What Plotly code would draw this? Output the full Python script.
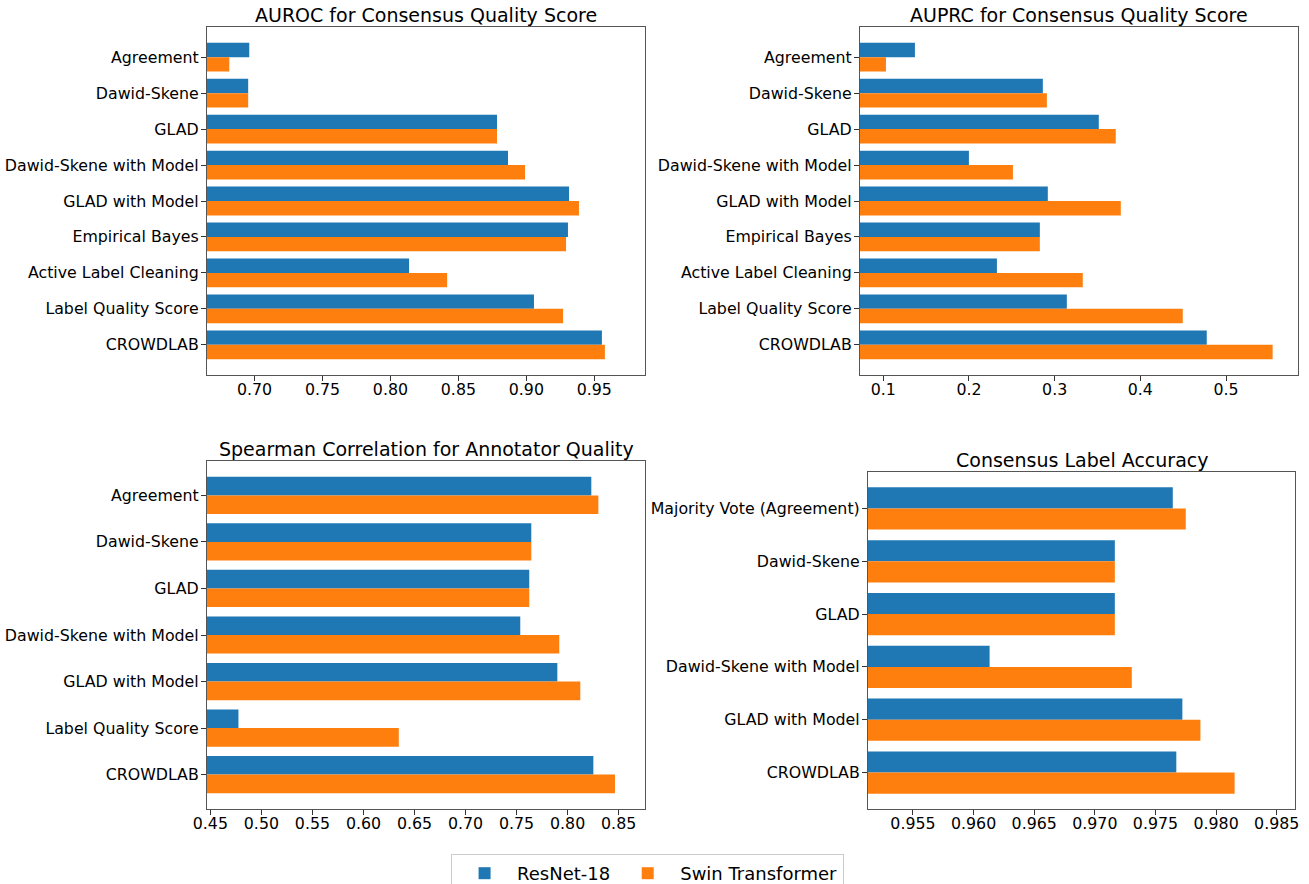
import plotly.graph_objects as go

# ---------------- data ----------------
series_names = ["ResNet-18", "Swin Transformer"]
colors = ["#1f77b4", "#ff7f0e"]

auroc_methods = ["Agreement", "Dawid-Skene", "GLAD", "Dawid-Skene with Model", "GLAD with Model",
                 "Empirical Bayes", "Active Label Cleaning", "Label Quality Score", "CROWDLAB"]
auroc_resnet = [0.6961, 0.6953, 0.8784, 0.8865, 0.9314, 0.9306, 0.8137, 0.9056, 0.9556]
auroc_swin = [0.6814, 0.6953, 0.8784, 0.8990, 0.9387, 0.9292, 0.8417, 0.9270, 0.9578]

auprc_methods = auroc_methods
auprc_resnet = [0.1369, 0.2862, 0.3515, 0.1999, 0.2920, 0.2827, 0.2326, 0.3142, 0.4775]
auprc_swin = [0.1031, 0.2909, 0.3713, 0.2513, 0.3772, 0.2827, 0.3328, 0.4495, 0.5544]

spear_methods = ["Agreement", "Dawid-Skene", "GLAD", "Dawid-Skene with Model", "GLAD with Model",
                 "Label Quality Score", "CROWDLAB"]
spear_resnet = [0.8232, 0.7644, 0.7624, 0.7536, 0.7899, 0.4775, 0.8252]
spear_swin = [0.8301, 0.7644, 0.7624, 0.7918, 0.8124, 0.6346, 0.8464]

acc_methods = ["Majority Vote (Agreement)", "Dawid-Skene", "GLAD", "Dawid-Skene with Model",
               "GLAD with Model", "CROWDLAB"]
acc_resnet = [0.97643, 0.97165, 0.97165, 0.96132, 0.97722, 0.97672]
acc_swin = [0.97750, 0.97165, 0.97165, 0.97305, 0.97871, 0.98153]

titles = ["AUROC for Consensus Quality Score", "AUPRC for Consensus Quality Score",
          "Spearman Correlation for Annotator Quality", "Consensus Label Accuracy"]
x_ranges = [[0.665, 0.9873], [0.0728, 0.584], [0.4467, 0.8758], [0.95129, 0.98651]]
x_ticks = [[0.70, 0.75, 0.80, 0.85, 0.90, 0.95],
           [0.1, 0.2, 0.3, 0.4, 0.5],
           [0.45, 0.50, 0.55, 0.60, 0.65, 0.70, 0.75, 0.80, 0.85],
           [0.955, 0.960, 0.965, 0.970, 0.975, 0.980, 0.985]]
x_tick_text = [["0.70", "0.75", "0.80", "0.85", "0.90", "0.95"],
               ["0.1", "0.2", "0.3", "0.4", "0.5"],
               ["0.45", "0.50", "0.55", "0.60", "0.65", "0.70", "0.75", "0.80", "0.85"],
               ["0.955", "0.960", "0.965", "0.970", "0.975", "0.980", "0.985"]]

panels = [
    (auroc_methods, auroc_resnet, auroc_swin),
    (auprc_methods, auprc_resnet, auprc_swin),
    (spear_methods, spear_resnet, spear_swin),
    (acc_methods, acc_resnet, acc_swin),
]

# ---------------- layout geometry (pixels) ----------------
W, H = 1309, 884
boxes = [  # left, right, top, bottom in pixels
    (207, 645, 27, 375),
    (860, 1298, 27, 375),
    (207, 645, 461, 809),
    (868, 1295, 472, 809),
]

FONT = "DejaVu Sans"
TICK_SIZE = 15.8
fig = go.Figure()
layout = dict(
    width=W, height=H,
    margin=dict(l=0, r=0, t=0, b=0, autoexpand=False),
    paper_bgcolor="white", plot_bgcolor="white",
    barmode="group", bargap=0.2, bargroupgap=0,
    font=dict(family=FONT, size=16, color="black"),
    showlegend=True,
    legend=dict(orientation="h", x=0.4947, xanchor="center", y=1 - 854 / H, yanchor="top",
                bordercolor="#cccccc", borderwidth=1, bgcolor="white",
                font=dict(family=FONT, size=18, color="black"),
                itemwidth=55, traceorder="normal"),
    annotations=[],
)

for i, ((cats, r, s), (l, rt, t, b)) in enumerate(zip(panels, boxes)):
    n = len(cats)
    ax = "" if i == 0 else str(i + 1)
    xa, ya = "x" + ax, "y" + ax
    for name, vals, col in zip(series_names, [r, s], colors):
        fig.add_trace(go.Bar(
            y=cats, x=vals, orientation="h", name=name, marker=dict(color=col, line=dict(width=0)),
            xaxis=xa, yaxis=ya, showlegend=(i == 0), legendgroup=name,
        ))
    m = 0.4 + 0.05 * (n - 0.2)
    layout["xaxis" + ax] = dict(
        domain=[l / W, rt / W], anchor=ya, range=x_ranges[i], automargin=False,
        tickvals=x_ticks[i], ticktext=x_tick_text[i], ticklabelstandoff=-5,
        showline=True, mirror=True, linecolor="#555555", linewidth=1.2,
        ticks="outside", ticklen=5, tickcolor="#333333", showgrid=False, zeroline=False,
        tickfont=dict(family=FONT, size=TICK_SIZE, color="black"),
    )
    layout["yaxis" + ax] = dict(
        domain=[1 - b / H, 1 - t / H], anchor=xa, automargin=False,
        type="category", categoryorder="array", categoryarray=cats,
        range=[n - 1 + m, -m], ticklabelstandoff=-1,
        showline=True, mirror=True, linecolor="#555555", linewidth=1.2,
        ticks="outside", ticklen=5, tickcolor="#333333", showgrid=False, zeroline=False,
        tickfont=dict(family=FONT, size=TICK_SIZE, color="black"),
    )
    layout["annotations"].append(dict(
        text=titles[i], xref="paper", yref="paper",
        x=(l + rt) / 2 / W, y=1 - (t + 1) / H, xanchor="center", yanchor="bottom",
        showarrow=False, font=dict(family=FONT, size=19, color="black"),
    ))

fig.update_layout(**layout)
fig.write_html("out.html")
